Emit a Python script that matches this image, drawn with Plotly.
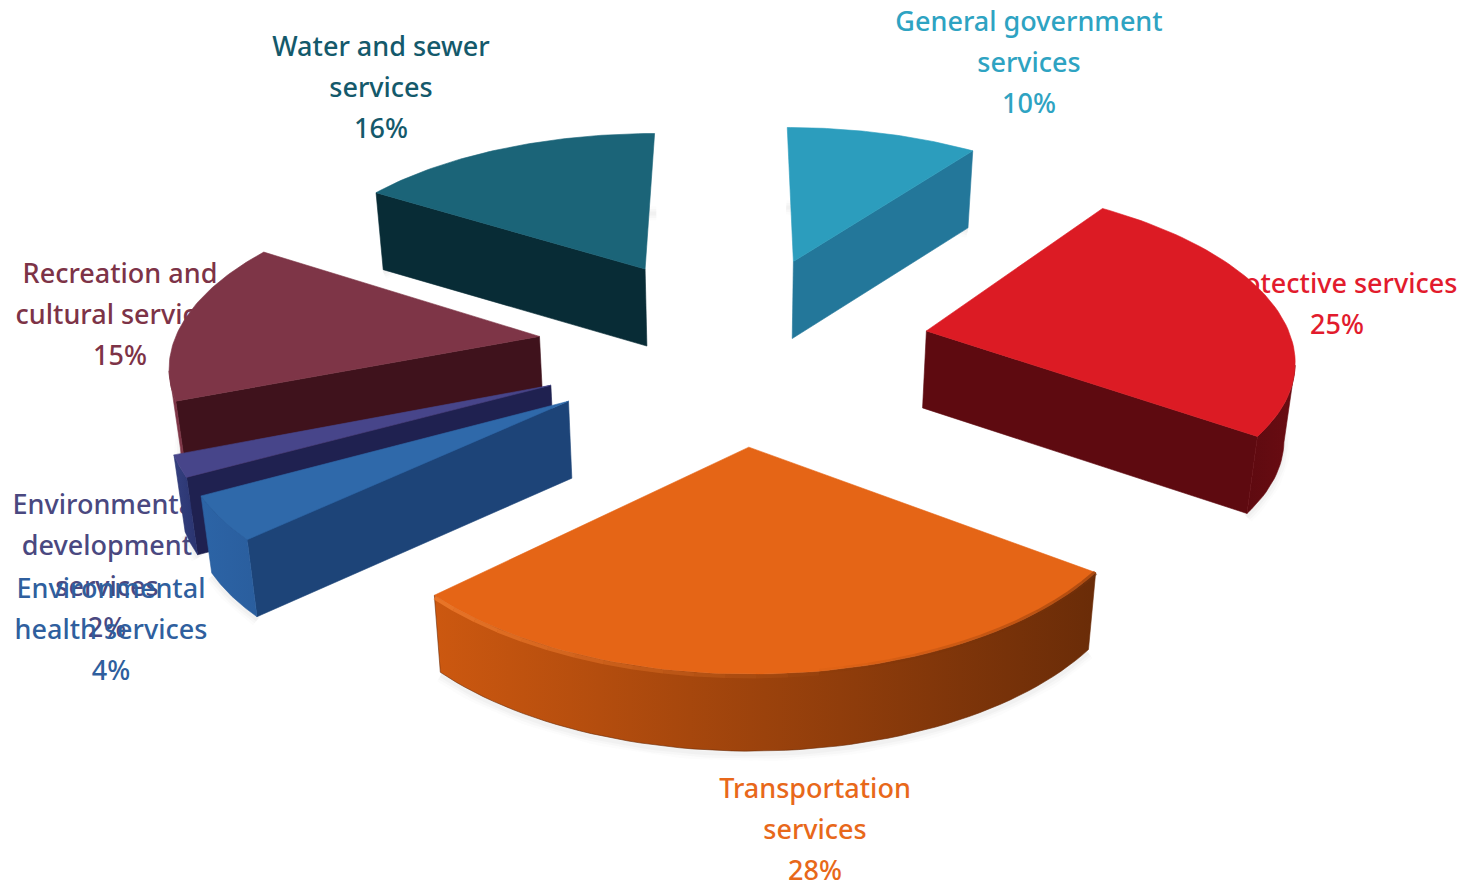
import numpy as np
import plotly.graph_objects as go

# Spending shares by service, clockwise from twelve o'clock
categories = [
    "General government services",
    "Protective services",
    "Transportation services",
    "Environmental health services",
    "Environmental development services",
    "Recreation and cultural services",
    "Water and sewer services",
]
values = [10, 25, 28, 4, 2, 15, 16]
label_lines = [
    ["General government", "services"],
    ["Protective services"],
    ["Transportation", "services"],
    ["Environmental", "health services"],
    ["Environmental", "development", "services"],
    ["Recreation and", "cultural services"],
    ["Water and sewer", "services"],
]

top_colors = ["#2C9DBD", "#DC1B24", "#E56516", "#2F69AA", "#47458A", "#7E3547", "#1B6478"]
side_colors = ["#23779A", "#5E0A10", "#7A3208", "#1D4478", "#1F2150", "#3F121C", "#082C36"]
arc_colors = [
    ("#23779A", "#23779A"),
    ("#5E0A10", "#6A0C12"),
    ("#CC5810", "#6A2C08"),
    ("#2C64A6", "#2A5E9E"),
    ("#34407F", "#2A3470"),
    ("#7E3547", "#7E3547"),
    ("#082C36", "#082C36"),
]
text_colors = ["#2EA3C2", "#E21B2D", "#E8681A", "#2F5F9E", "#4A4880", "#7D3347", "#14596B"]
label_centres = [
    (1029, 24), (1337, 286), (815, 791), (111, 591), (107, 507), (120, 276), (381, 49),
]
explode = [0.55, 0.535, 0.56, 0.54, 0.54, 0.54, 0.54]
LINE_STEP = 41
draw_order = [6, 0, 1, 5, 4, 3, 2]

# Perspective camera for the exploded disc
CX, CY, AX, AY, PERSP, THICK, DROP = 735, 345, 366, 170, 0.125, 77, 0.02


def project(x, y, z=0.0):
    x, y = np.asarray(x, float), np.asarray(y, float)
    s = 1.0 / (1.0 + PERSP * y)
    # lower points sit further from the camera, so they draw in slightly
    return CX + AX * s * x * (1 - DROP * np.asarray(z, float)), CY - AY * s * y + THICK * np.asarray(z, float)


def poly_trace(px, py, color=None, gradient=None):
    trace = dict(
        x=np.append(px, px[0]), y=np.append(py, py[0]), mode="lines",
        line=dict(width=0.6, color=color or gradient[1]),
        fill="toself", hoverinfo="skip", showlegend=False,
    )
    if gradient:
        trace["fillgradient"] = dict(
            type="horizontal",
            colorscale=[[0, gradient[0]], [1, gradient[1]]],
        )
    else:
        trace["fillcolor"] = color
    return go.Scatter(**trace)


def faces_visible(px0, py0, nx, ny, margin=0.0):
    cam_y = -1.0 / PERSP
    return (0 - px0) * nx + (cam_y - py0) * ny > margin


fig = go.Figure()

# Labels sit underneath the slices, so a slice may cover part of a label
for i in [4, 3, 5, 6, 0, 1, 2]:
    lines = label_lines[i] + [f"{values[i]}%"]
    cx0, cy0 = label_centres[i]
    fig.add_trace(go.Scatter(
        x=[cx0] * len(lines),
        y=[cy0 + LINE_STEP * n for n in range(len(lines))],
        text=lines, mode="text", textposition="middle center", cliponaxis=False,
        textfont=dict(family="Noto Sans", size=27, color=text_colors[i], weight=500),
        hoverinfo="skip", showlegend=False,
    ))

edges = np.cumsum([0] + values) / sum(values) * 2 * np.pi

for i in draw_order:
    a0, a1 = edges[i], edges[i + 1]
    mid = (a0 + a1) / 2
    ox, oy = explode[i] * np.sin(mid), explode[i] * np.cos(mid)
    th = np.linspace(a0, a1, 60)
    rim_x, rim_y = ox + np.sin(th), oy + np.cos(th)

    # soft contact shadow under the front-most edges
    bx, by = project(rim_x, rim_y, 1.04)
    for w, alpha in ((14, 0.02), (9, 0.03), (4, 0.04)):
        fig.add_trace(go.Scatter(
            x=bx, y=by, mode="lines",
            line=dict(width=w, color=f"rgba(90,90,90,{alpha})"),
            hoverinfo="skip", showlegend=False,
        ))

    # radial wall on the leading edge; near edge-on walls are skipped
    if faces_visible(ox, oy, -np.cos(a0), np.sin(a0), 0.5):
        ex, ey = ox + np.sin(a0), oy + np.cos(a0)
        xs, ys = [ox, ex, ex, ox], [oy, ey, ey, oy]
        px, py = project(xs, ys, np.array([0, 0, 1, 1]))
        fig.add_trace(poly_trace(px, py, side_colors[i]))

    # radial wall on the trailing edge
    if faces_visible(ox, oy, np.cos(a1), -np.sin(a1), 0.5):
        ex, ey = ox + np.sin(a1), oy + np.cos(a1)
        xs, ys = [ox, ex, ex, ox], [oy, ey, ey, oy]
        px, py = project(xs, ys, np.array([0, 0, 1, 1]))
        fig.add_trace(poly_trace(px, py, side_colors[i]))

    # outer curved wall, only the part turned towards the camera
    facing = faces_visible(rim_x, rim_y, np.sin(th), np.cos(th))
    if facing.sum() > 1:
        tx, ty = project(rim_x[facing], rim_y[facing], 0.0)
        lx, ly = project(rim_x[facing], rim_y[facing], 1.0)
        fig.add_trace(poly_trace(
            np.concatenate([tx, lx[::-1]]), np.concatenate([ty, ly[::-1]]),
            gradient=arc_colors[i],
        ))

    # top face
    tx, ty = project(np.r_[ox, rim_x], np.r_[oy, rim_y], 0.0)
    fig.add_trace(poly_trace(tx, ty, top_colors[i]))

# rounded rim on the largest slice: lit on the left, shaded on the right,
# both fading out towards the middle of the arc
big = int(np.argmax(values))
a0, a1 = edges[big], edges[big + 1]
mid = (a0 + a1) / 2
ox, oy = explode[big] * np.sin(mid), explode[big] * np.cos(mid)
span = a1 - a0
STEPS = 14
for k in range(STEPS):
    t0, t1 = k / STEPS, (k + 1) / STEPS
    # lit half, measured back from the trailing corner
    th = a1 - span * 0.55 * np.linspace(t0, t1, 6)
    hx, hy = project(ox + np.sin(th), oy + np.cos(th), 0.03)
    fig.add_trace(go.Scatter(
        x=hx, y=hy, mode="lines",
        line=dict(width=4, color=f"rgba(244,128,50,{0.7 * (1 - t0):.3f})"),
        hoverinfo="skip", showlegend=False,
    ))
    # shaded half, measured forward from the leading corner
    th = a0 + span * 0.45 * np.linspace(t0, t1, 6)
    hx, hy = project(ox + np.sin(th), oy + np.cos(th), 0.0)
    fig.add_trace(go.Scatter(
        x=hx, y=hy, mode="lines",
        line=dict(width=5, color=f"rgba(120,50,10,{0.5 * (1 - t0):.3f})"),
        hoverinfo="skip", showlegend=False,
    ))

fig.update_layout(
    width=1463, height=885, margin=dict(l=0, r=0, t=0, b=0),
    paper_bgcolor="white", plot_bgcolor="white", showlegend=False,
    xaxis=dict(range=[0, 1463], visible=False, fixedrange=True),
    yaxis=dict(range=[885, 0], visible=False, fixedrange=True),
)
fig.write_html("out.html", config={"displayModeBar": False})
